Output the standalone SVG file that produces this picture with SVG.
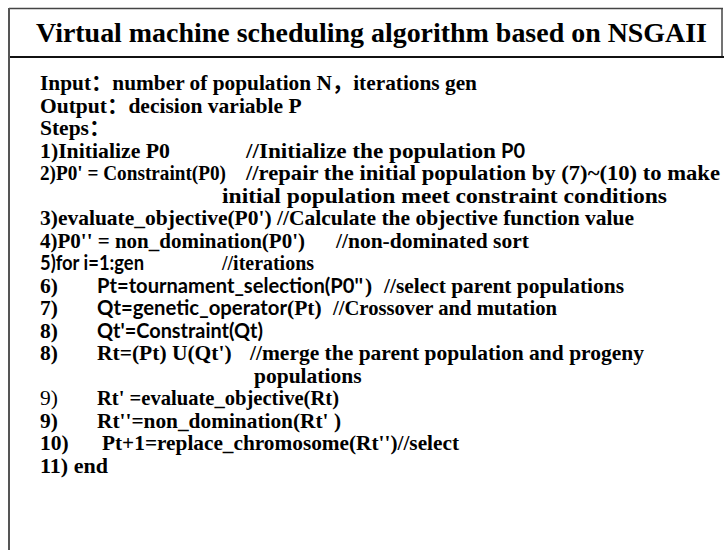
<svg xmlns="http://www.w3.org/2000/svg" width="724" height="550" viewBox="0 0 724 550">
<style>
.t{font-family:"Liberation Serif","Times New Roman","Noto Sans CJK SC",serif;font-weight:bold;font-size:21.5px;fill:#000}
.s{font-family:Lato,"Liberation Sans",sans-serif;font-weight:bold;font-size:20px;fill:#000}
.r{font-weight:normal}
.title{font-family:"Liberation Serif","Times New Roman",serif;font-weight:bold;font-size:28px;fill:#000}
</style>
<rect width="724" height="550" fill="#fff"/>
<g id="frame" fill="none">
<line x1="9" y1="8.5" x2="723" y2="8.5" stroke="#444" stroke-width="1.5"/>
<line x1="722" y1="8" x2="722" y2="57" stroke="#444" stroke-width="1.5"/>
<line x1="9" y1="57" x2="724" y2="57" stroke="#111" stroke-width="2.2"/>
<line x1="9" y1="8" x2="9" y2="550" stroke="#555" stroke-width="2"/>
</g>
<g id="title">
<text class="title" x="36" y="42" textLength="671" lengthAdjust="spacingAndGlyphs">Virtual machine scheduling algorithm based on NSGAII</text>
</g>
<g id="body">
<text class="t" x="40" y="90" textLength="437" lengthAdjust="spacingAndGlyphs">Input：number of population N，iterations gen</text>
<text class="t" x="40" y="112.5">Output：decision variable P</text>
<text class="t" x="40" y="135">Steps：</text>
<text class="t" x="40" y="157.5" textLength="130" lengthAdjust="spacingAndGlyphs">1)Initialize  P0</text>
<text class="t" x="246" y="157.5" textLength="250" lengthAdjust="spacingAndGlyphs">//Initialize the population</text>
<text class="s" x="501" y="157.5" font-size="19">P0</text>
<text class="t" x="40" y="180" textLength="186" lengthAdjust="spacingAndGlyphs">2)P0' = Constraint(P0)</text>
<text class="t" x="246" y="180" textLength="474" lengthAdjust="spacingAndGlyphs">//repair the initial population by (7)~(10) to make</text>
<text class="t" x="222" y="202.5" textLength="445" lengthAdjust="spacingAndGlyphs">initial population meet constraint conditions</text>
<text class="t" x="40" y="225" textLength="594" lengthAdjust="spacingAndGlyphs">3)evaluate_objective(P0') //Calculate the objective function value</text>
<text class="t" x="40" y="247.5" textLength="265" lengthAdjust="spacingAndGlyphs">4)P0'' = non_domination(P0')</text>
<text class="t" x="336" y="247.5">//non-dominated sort</text>
<text class="s" x="40" y="270" textLength="104" lengthAdjust="spacingAndGlyphs">5)for i=1:gen</text>
<text class="t" x="222" y="270" textLength="92" lengthAdjust="spacingAndGlyphs">//iterations</text>
<text class="t" x="40" y="292.5">6)</text>
<text class="s" x="97" y="292.5" textLength="266" lengthAdjust="spacingAndGlyphs">Pt=tournament_selection(P0''</text>
<text class="t" x="365" y="292.5">)</text>
<text class="t" x="384" y="292.5" textLength="240" lengthAdjust="spacingAndGlyphs">//select parent populations</text>
<text class="t" x="40" y="315">7)</text>
<text class="s" x="97" y="315" textLength="190" lengthAdjust="spacingAndGlyphs">Qt=genetic_operator</text>
<text class="t" x="287" y="315">(Pt)</text>
<text class="t" x="333" y="315" textLength="224" lengthAdjust="spacingAndGlyphs">//Crossover and mutation</text>
<text class="t" x="40" y="337.5">8)</text>
<text class="s" x="97" y="337.5" textLength="166" lengthAdjust="spacingAndGlyphs">Qt'=Constraint(Qt)</text>
<text class="t" x="40" y="360">8)</text>
<text class="t" x="97" y="360">Rt=(Pt) U(Qt')</text>
<text class="t" x="250" y="360">//merge the parent population and progeny</text>
<text class="t" x="254" y="382.5">populations</text>
<text class="t r" x="40" y="405">9)</text>
<text class="t" x="97" y="405" textLength="242" lengthAdjust="spacingAndGlyphs">Rt' =evaluate_objective(Rt)</text>
<text class="t" x="40" y="427.5">9)</text>
<text class="t" x="97" y="427.5" textLength="244" lengthAdjust="spacingAndGlyphs">Rt''=non_domination(Rt' )</text>
<text class="t" x="40" y="450">10)</text>
<text class="t" x="102" y="450" textLength="357" lengthAdjust="spacingAndGlyphs">Pt+1=replace_chromosome(Rt'')//select</text>
<text class="t" x="40" y="472.5" textLength="68" lengthAdjust="spacingAndGlyphs">11) end</text>
</g>
</svg>
